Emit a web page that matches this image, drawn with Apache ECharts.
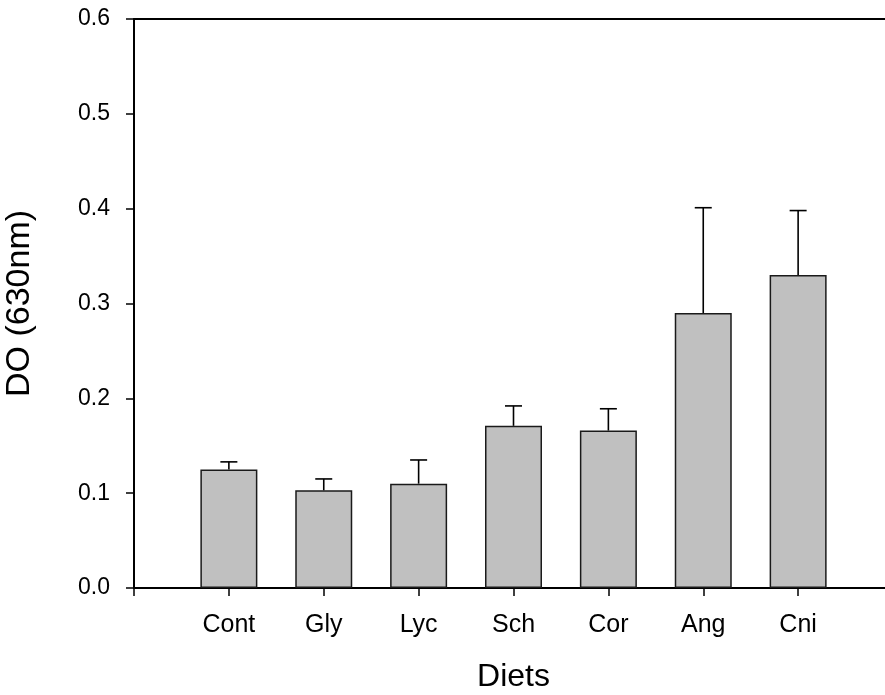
<!DOCTYPE html>
<html>
<head>
<meta charset="utf-8">
<title>DO (630nm) by diet</title>
<script src="https://cdn.jsdelivr.net/npm/echarts@6/dist/echarts.min.js"></script>
<style>
  html, body { margin: 0; padding: 0; background: #fff; }
  #chart { width: 885px; height: 695px; }
</style>
</head>
<body>
<div id="chart"></div>
<script>
// Diet groups, mean optical density and standard error
const diets = ['Cont', 'Gly', 'Lyc', 'Sch', 'Cor', 'Ang', 'Cni'];
const meanDO = [0.125, 0.103, 0.110, 0.171, 0.166, 0.290, 0.330];
const errorDO = [0.008, 0.012, 0.025, 0.021, 0.023, 0.111, 0.068];
const yTicks = [0.0, 0.1, 0.2, 0.3, 0.4, 0.5, 0.6];

const FONT = "'Liberation Sans', Arial, sans-serif";

// Groups sit at positions 1..n on a numeric x axis running 0..n+1
const barData = diets.map((d, i) => [i + 1, meanDO[i]]);
const errData = diets.map((d, i) => [i + 1, meanDO[i], errorDO[i]]);

const chart = echarts.init(document.getElementById('chart'), null, { renderer: 'canvas' });

const axisLine = { show: true, onZero: false, lineStyle: { color: '#000', width: 2 } };

chart.setOption({
  animation: false,
  backgroundColor: '#fff',
  grid: {
    left: 134, top: 19, width: 759, height: 569,
    containLabel: false,
    outerBoundsMode: 'none'
  },
  xAxis: [
    {
      type: 'value',
      min: 0,
      max: diets.length + 1,
      interval: 1,
      position: 'bottom',
      name: 'Diets',
      nameLocation: 'middle',
      nameGap: 73,
      nameTextStyle: { fontFamily: FONT, fontSize: 32, color: '#000' },
      axisLine: axisLine,
      axisTick: { show: true, length: 8, inside: false, lineStyle: { color: '#000', width: 1.5 } },
      axisLabel: {
        margin: 25,
        fontFamily: FONT,
        fontSize: 25,
        color: '#000',
        formatter: v => diets[v - 1] || ''
      },
      splitLine: { show: false }
    },
    {
      type: 'value',
      min: 0,
      max: diets.length + 1,
      position: 'top',
      axisLine: axisLine,
      axisTick: { show: false },
      axisLabel: { show: false },
      splitLine: { show: false }
    }
  ],
  yAxis: {
    type: 'value',
    min: yTicks[0],
    max: yTicks[yTicks.length - 1],
    interval: 0.1,
    name: 'DO (630nm)',
    nameLocation: 'middle',
    nameGap: 97,
    nameRotate: 90,
    nameTextStyle: { fontFamily: FONT, fontSize: 34, color: '#000' },
    axisLine: axisLine,
    axisTick: { show: true, length: 8, inside: false, lineStyle: { color: '#000', width: 1.5 } },
    axisLabel: {
      margin: 24,
      fontFamily: FONT,
      fontSize: 23,
      color: '#000',
      formatter: v => v.toFixed(1)
    },
    splitLine: { show: false }
  },
  series: [
    {
      type: 'bar',
      xAxisIndex: 0,
      data: barData,
      barWidth: 57,
      itemStyle: { color: '#c0c0c0', borderColor: '#1a1a1a', borderWidth: 1.5 },
      z: 2
    },
    {
      // upper error whiskers with a short horizontal cap
      type: 'custom',
      xAxisIndex: 0,
      data: errData,
      z: 3,
      renderItem: function (params, api) {
        const x = api.value(0);
        const m = api.value(1);
        const e = api.value(2);
        const base = api.coord([x, m]);
        const top = api.coord([x, m + e]);
        const half = 8.5;
        const style = { stroke: '#000', lineWidth: 1.6 };
        return {
          type: 'group',
          children: [
            { type: 'line', shape: { x1: base[0], y1: base[1], x2: top[0], y2: top[1] }, style: style },
            { type: 'line', shape: { x1: top[0] - half, y1: top[1], x2: top[0] + half, y2: top[1] }, style: style }
          ]
        };
      }
    }
  ]
});
</script>
</body>
</html>
